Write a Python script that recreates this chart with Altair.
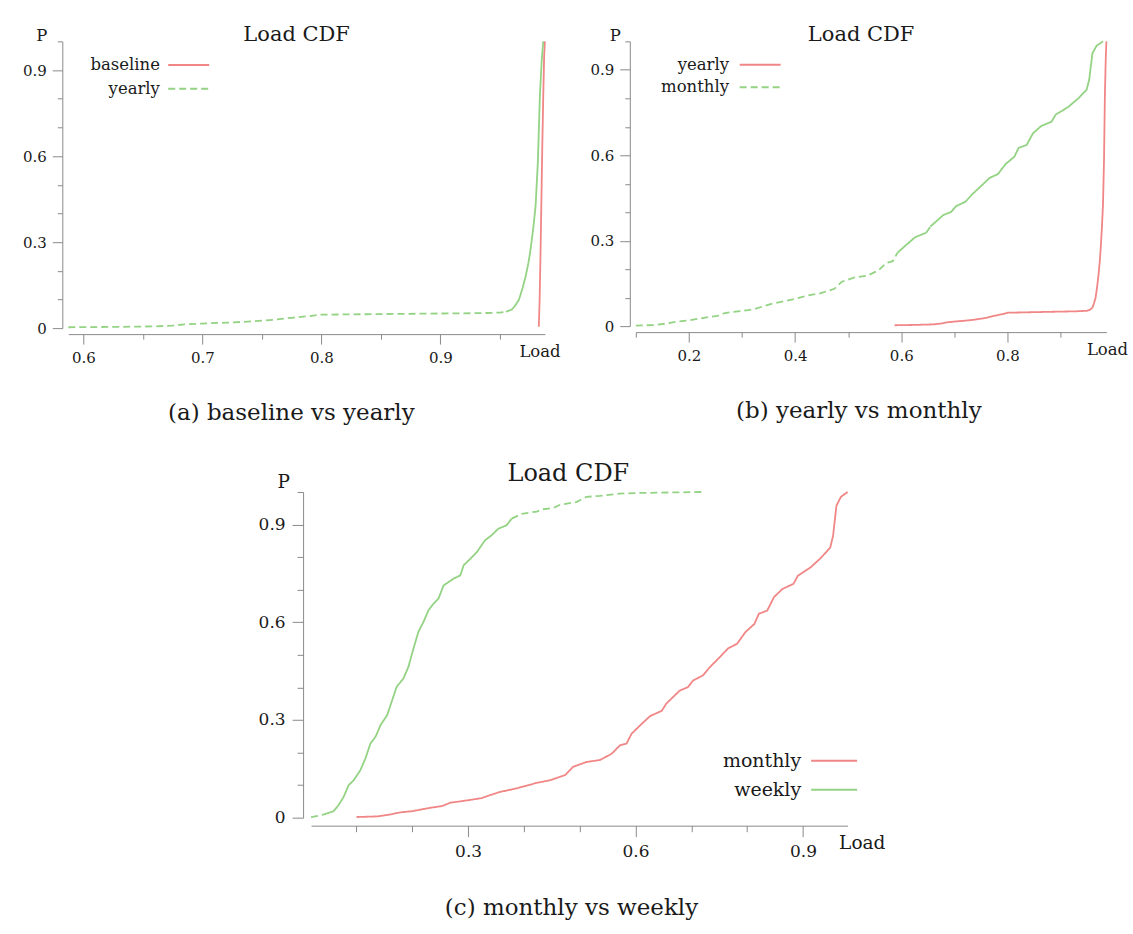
import json
import altair as alt
import pandas as pd

FONT = "DejaVu Serif"
RED = "#f18686"
GREEN = "#93d383"
AXIS_GREY = "#8a8a8a"
TEXT = "#1a1a1a"
SOLID = [1, 0]
DASH = [7, 4]

# ---------------- data ----------------
BASELINE_LOAD = [0.9826, 0.9833, 0.9840, 0.9848, 0.9856, 0.9864, 0.9871, 0.9877]
BASELINE_P = [0.005, 0.10, 0.25, 0.45, 0.65, 0.82, 0.95, 1.0]

YEARLY_LOAD = [0.5874, 0.62, 0.66, 0.675, 0.685, 0.70, 0.72, 0.735, 0.75, 0.76,
               0.775, 0.79, 0.80, 0.85, 0.90, 0.93, 0.95, 0.955, 0.96, 0.963,
               0.966, 0.969, 0.9715, 0.974, 0.9757, 0.978, 0.9799, 0.9818,
               0.9835, 0.985, 0.9863]
YEARLY_P = [0.003, 0.004, 0.006, 0.009, 0.013, 0.016, 0.019, 0.022, 0.026, 0.029,
            0.036, 0.042, 0.047, 0.049, 0.051, 0.052, 0.054, 0.057, 0.065, 0.08,
            0.10, 0.14, 0.18, 0.23, 0.275, 0.35, 0.426, 0.578, 0.81, 0.93, 1.0]

MONTHLY_LOAD = [0.100, 0.138, 0.161, 0.177, 0.200, 0.231, 0.254, 0.268, 0.298, 0.324,
                0.339, 0.357, 0.387, 0.423, 0.447, 0.474, 0.488, 0.512, 0.536, 0.557,
                0.572, 0.584, 0.593, 0.608, 0.626, 0.647, 0.655, 0.667, 0.679, 0.694,
                0.703, 0.721, 0.733, 0.751, 0.766, 0.782, 0.797, 0.813, 0.821, 0.836,
                0.848, 0.863, 0.883, 0.891, 0.914, 0.933, 0.949, 0.954, 0.960, 0.968,
                0.980]
MONTHLY_P = [0.002, 0.004, 0.010, 0.016, 0.020, 0.030, 0.036, 0.046, 0.053, 0.060,
             0.069, 0.079, 0.090, 0.107, 0.115, 0.131, 0.156, 0.171, 0.177, 0.196,
             0.222, 0.228, 0.258, 0.283, 0.312, 0.328, 0.350, 0.370, 0.390, 0.401,
             0.421, 0.437, 0.462, 0.493, 0.520, 0.534, 0.570, 0.595, 0.626, 0.636,
             0.677, 0.702, 0.718, 0.743, 0.769, 0.799, 0.830, 0.866, 0.958, 0.985,
             1.000]

WEEKLY_LOAD = [0.0186, 0.038, 0.059, 0.068, 0.077, 0.086, 0.095, 0.107, 0.116, 0.125,
               0.134, 0.143, 0.155, 0.163, 0.172, 0.184, 0.193, 0.202, 0.211, 0.220,
               0.229, 0.238, 0.247, 0.256, 0.274, 0.286, 0.292, 0.304, 0.316, 0.330,
               0.342, 0.354, 0.369, 0.378, 0.396, 0.423, 0.435, 0.453, 0.465, 0.494,
               0.512, 0.536, 0.572, 0.608, 0.721]
WEEKLY_P = [0.002, 0.008, 0.020, 0.039, 0.064, 0.100, 0.115, 0.146, 0.182, 0.228,
            0.248, 0.284, 0.315, 0.356, 0.402, 0.427, 0.463, 0.519, 0.571, 0.601,
            0.637, 0.657, 0.673, 0.713, 0.734, 0.744, 0.775, 0.795, 0.816, 0.851,
            0.867, 0.887, 0.898, 0.918, 0.933, 0.940, 0.947, 0.951, 0.961, 0.969,
            0.985, 0.988, 0.995, 0.997, 1.000]

PANEL_TITLE = "Load CDF"
X_TITLE = "Load"
Y_TITLE = "P"
CAPTIONS = ["(a) baseline vs yearly", "(b) yearly vs monthly", "(c) monthly vs weekly"]

Y_TICKS = [0, 0.1, 0.2, 0.3, 0.4, 0.5, 0.6, 0.7, 0.8, 0.9, 1.0]
Y_LABELS = [0, 0.3, 0.6, 0.9]
A_X_TICKS = [0.6, 0.65, 0.7, 0.75, 0.8, 0.85, 0.9, 0.95]
A_X_LABELS = [0.6, 0.7, 0.8, 0.9]
B_X_TICKS = [0.1, 0.2, 0.3, 0.4, 0.5, 0.6, 0.7, 0.8, 0.9]
B_X_LABELS = [0.2, 0.4, 0.6, 0.8]
C_X_TICKS = [0.1, 0.2, 0.3, 0.4, 0.5, 0.6, 0.7, 0.8, 0.9]
C_X_LABELS = [0.3, 0.6, 0.9]

# where the rendered stroke switches between dashed and solid look (upper bound, style)
A_YEARLY_STYLE = [(0.955, "dash"), (9, "solid")]
B_MONTHLY_STYLE = [(0.588, "dash"), (0.647, "solid"), (0.655, "dash"), (9, "solid")]
C_WEEKLY_STYLE = [(0.038, "dash"), (0.378, "solid"), (9, "dash")]
ALL_SOLID = [(9, "solid")]


def series_rows(name, load, p, styles, legend_style):
    assert len(load) == len(p)
    rows = []

    def style_of(x):
        for upper, st in styles:
            if x < upper:
                return st
        return styles[-1][1]

    seg_styles = [style_of(load[i]) for i in range(len(load) - 1)]
    piece = 0
    i = 0
    while i < len(seg_styles):
        j = i
        while j + 1 < len(seg_styles) and seg_styles[j + 1] == seg_styles[i]:
            j += 1
        st = seg_styles[i]
        key = name if st == legend_style else name + "*"
        for k in range(i, j + 2):
            rows.append({"load": load[k], "p": p[k], "key": key, "key2": key,
                         "piece": f"{name}-{piece}"})
        piece += 1
        i = j + 1
    return rows


def in_list(vals):
    return f"indexof({json.dumps(vals)}, datum.value) >= 0"


def entry_legend(value, s, ly, color):
    return alt.Legend(
        title=None, values=[value], orient="none",
        legendX=s["lx"], legendY=ly, padding=0,
        labelAlign="right", labelOffset={"expr": str(s["lo"])}, symbolOffset=s["so"],
        symbolSize=s["ss"], symbolStrokeWidth=2, symbolType="stroke",
        symbolStrokeColor=color,
        labelFont=FONT, labelFontSize=s["lfs"], labelColor=TEXT,
    )


def make_panel(rows, names, second_legend_style, w, h, xt, xl, s):
    keys = [names[0], names[1], names[1] + "*"]
    dash2 = DASH if second_legend_style == "dash" else SOLID
    dash3 = SOLID if second_legend_style == "dash" else DASH
    df = pd.DataFrame(rows)
    x_axis = alt.Axis(
        values=xt, format=".1~f",
        labelExpr=f"{in_list(xl)} ? datum.label : ''",
        tickSize={"condition": {"test": in_list(xl), "value": s["major"]}, "value": s["minor"]},
        labelPadding=s["lp"], offset=s["off"], labelFlush=False, labelOverlap=False,
        labelFontSize=s["afs"], grid=False,
        title=X_TITLE, titleAngle=0, titleAlign="left", titleBaseline="alphabetic",
        titleX=w + s["loadx"], titleY=s["loady"], titleFontSize=s["tfs"],
    )
    y_axis = alt.Axis(
        values=Y_TICKS, format=".1~f",
        labelExpr=f"{in_list(Y_LABELS)} ? datum.label : ''",
        tickSize={"condition": {"test": in_list(Y_LABELS), "value": s["major"]}, "value": s["minor"]},
        labelPadding=s["lp"], offset=s["off"], labelFlush=False, labelOverlap=False,
        labelFontSize=s["afs"], grid=False,
        title=Y_TITLE, titleAngle=0, titleAlign="center", titleBaseline="alphabetic",
        titleX=s["px"], titleY=s["py"], titleFontSize=s["tfs"],
    )
    chart = alt.Chart(df).mark_line(strokeWidth=1.8, clip=False).encode(
        x=alt.X("load:Q", scale=alt.Scale(zero=False, nice=False), axis=x_axis),
        y=alt.Y("p:Q", scale=alt.Scale(domain=[0, 1], nice=False), axis=y_axis),
        color=alt.Color("key:N", scale=alt.Scale(domain=keys, range=[RED, GREEN, GREEN]),
                        legend=entry_legend(names[0], s, s["ly1"], RED)),
        # domain listed in a different order so the two one-entry legends stay separate
        strokeDash=alt.StrokeDash("key2:N",
                                  scale=alt.Scale(domain=[keys[1], keys[2], keys[0]],
                                                  range=[dash2, dash3, SOLID]),
                                  legend=entry_legend(names[1], s, s["ly2"], GREEN)),
        detail="piece:N",
        order=alt.Order("load:Q"),
    ).properties(
        width=w, height=h,
        title=alt.TitleParams(PANEL_TITLE, font=FONT, fontSize=s["ttl"], fontWeight="normal",
                              color=TEXT, anchor="middle", frame="group", dx=s["tdx"],
                              offset=s["toff"], baseline="alphabetic"),
    )
    return chart


SMALL = dict(lx=0, ly1=2.2, ly2=25.8, so=99, lo=-50.3, ss=1681, lfs=16.5, major=10, minor=5,
             lp=6, off=6, afs=15, tfs=16.5, loadx=-26, loady=22, px=-21, py=-1,
             ttl=21, tdx=-10, toff=-35)
BIG = dict(lx=400, ly1=245, ly2=274, so=99.5, lo=-57, ss=2116, lfs=19, major=11, minor=6,
           lp=7, off=8, afs=17, tfs=18.5, loadx=-9, loady=22.6, px=-20, py=-4,
           ttl=24, tdx=-11, toff=-32)
B_SMALL = dict(SMALL, loadx=-20, px=-15, so=103, lo=-52.7, ly1=2, ly2=24.3)

rows_a = (series_rows("baseline", BASELINE_LOAD, BASELINE_P, ALL_SOLID, "solid")
          + series_rows("yearly", YEARLY_LOAD, YEARLY_P, A_YEARLY_STYLE, "dash"))
rows_b = (series_rows("yearly", YEARLY_LOAD, YEARLY_P, ALL_SOLID, "solid")
          + series_rows("monthly", MONTHLY_LOAD, MONTHLY_P, B_MONTHLY_STYLE, "dash"))
rows_c = (series_rows("monthly", MONTHLY_LOAD, MONTHLY_P, ALL_SOLID, "solid")
          + series_rows("weekly", WEEKLY_LOAD, WEEKLY_P, C_WEEKLY_STYLE, "solid"))

pa = make_panel(rows_a, ["baseline", "yearly"], "dash", 477, 287, A_X_TICKS, A_X_LABELS, SMALL)
pb = make_panel(rows_b, ["yearly", "monthly"], "dash", 471, 285, B_X_TICKS, B_X_LABELS, B_SMALL)
pc = make_panel(rows_c, ["monthly", "weekly"], "solid", 537, 326, C_X_TICKS, C_X_LABELS, BIG)


def caption(text):
    return alt.TitleParams(text, orient="bottom", anchor="middle", font=FONT, fontSize=23,
                           fontWeight="normal", color=TEXT, offset=55, baseline="alphabetic")


def indep(c):
    return c.resolve_scale(color="independent", strokeDash="independent").resolve_legend(
        color="independent", strokeDash="independent")


panel_a = indep(alt.vconcat(pa, title=caption(CAPTIONS[0])))
panel_b = indep(alt.vconcat(pb, title=caption(CAPTIONS[1])))
panel_c = indep(alt.vconcat(pc, title=caption(CAPTIONS[2])))

chart = indep(alt.vconcat(
    indep(alt.hconcat(panel_a, panel_b, spacing=29)),
    panel_c,
    spacing=37, center=True,
)).properties(
    padding={"left": 22, "top": 24, "right": 5, "bottom": 5},
).configure_view(strokeWidth=0).configure_axis(
    labelFont=FONT, titleFont=FONT, labelColor=TEXT, titleColor=TEXT,
    titleFontWeight="normal", domainColor=AXIS_GREY, tickColor=AXIS_GREY,
    domainWidth=1, tickWidth=1,
).configure_legend(symbolBaseStrokeColor=GREEN)

chart.save("out.html", embed_options={"renderer": "svg", "actions": False})
